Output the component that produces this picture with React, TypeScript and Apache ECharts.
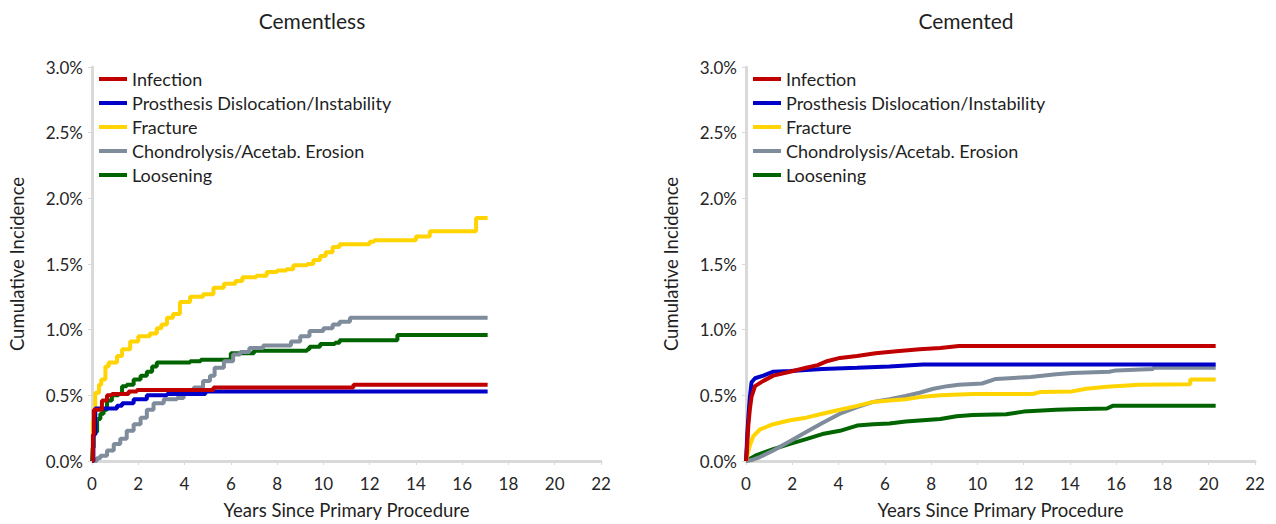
import React, { useEffect, useRef } from "react";
import * as echarts from "echarts";

const FONT = "Lato, 'Noto Sans', sans-serif";

const seriesNames = [
  "Infection",
  "Prosthesis Dislocation/Instability",
  "Fracture",
  "Chondrolysis/Acetab. Erosion",
  "Loosening",
];
const seriesColors = ["#c00000", "#0000c8", "#ffd400", "#7f8c9c", "#006400"];
const panelTitles = ["Cementless", "Cemented"];

// Cementless: [years, cumulative incidence %]
const cementlessInfection = [
  [0, 0], [0.04, 0.2], [0.08, 0.39], [0.43, 0.46], [0.65, 0.5], [0.86, 0.51],
  [1.58, 0.53], [1.94, 0.54], [5.25, 0.56], [11.3, 0.58], [17.1, 0.58],
];
const cementlessDislocation = [
  [0, 0], [0.06, 0.2], [0.14, 0.4], [1.08, 0.42], [1.3, 0.44], [1.8, 0.47],
  [2.37, 0.5], [3.24, 0.51], [4.9, 0.53], [17.1, 0.53],
];
const cementlessFracture = [
  [0, 0], [0.04, 0.3], [0.14, 0.52], [0.3, 0.58], [0.4, 0.62], [0.58, 0.72],
  [0.72, 0.75], [1.08, 0.8], [1.3, 0.85], [1.65, 0.91], [2.0, 0.95], [2.5, 0.97],
  [2.8, 1.01], [3.0, 1.04], [3.24, 1.09], [3.5, 1.12], [3.8, 1.21], [4.24, 1.25],
  [4.8, 1.27], [5.25, 1.32], [5.7, 1.35], [6.2, 1.37], [6.5, 1.4], [7.1, 1.41],
  [7.55, 1.44], [8.0, 1.45], [8.4, 1.46], [8.7, 1.49], [9.3, 1.5], [9.57, 1.53],
  [9.86, 1.56], [10.1, 1.59], [10.4, 1.63], [10.7, 1.65], [12.0, 1.67],
  [12.2, 1.68], [14.0, 1.71], [14.6, 1.75], [16.6, 1.85], [17.1, 1.85],
];
const cementlessChondrolysis = [
  [0, 0], [0.2, 0.02], [0.36, 0.04], [0.65, 0.08], [0.94, 0.13], [1.22, 0.17],
  [1.5, 0.23], [1.8, 0.28], [2.1, 0.33], [2.37, 0.39], [2.66, 0.44], [3.1, 0.47],
  [3.67, 0.48], [3.96, 0.51], [4.4, 0.56], [4.8, 0.61], [5.1, 0.65], [5.3, 0.71],
  [5.7, 0.76], [6.1, 0.81], [6.4, 0.83], [6.8, 0.86], [7.4, 0.88], [8.6, 0.91],
  [9.0, 0.95], [9.4, 0.99], [10.0, 1.01], [10.4, 1.04], [10.7, 1.06],
  [11.15, 1.09], [17.1, 1.09],
];
const cementlessLoosening = [
  [0, 0], [0.03, 0.1], [0.07, 0.22], [0.22, 0.32], [0.36, 0.36], [0.5, 0.39],
  [0.65, 0.46], [0.86, 0.5], [1.15, 0.51], [1.3, 0.57], [1.5, 0.58], [1.8, 0.62],
  [2.1, 0.65], [2.37, 0.68], [2.6, 0.72], [2.8, 0.75], [4.24, 0.76], [4.7, 0.77],
  [6.0, 0.82], [7.0, 0.84], [9.3, 0.85], [9.4, 0.87], [9.86, 0.89], [10.5, 0.9],
  [10.7, 0.92], [13.2, 0.96], [17.1, 0.96],
];

// Cemented: [years, cumulative incidence %]
const cementedInfection = [
  [0, 0], [0.05, 0.12], [0.1, 0.27], [0.17, 0.4], [0.24, 0.49], [0.39, 0.57],
  [0.75, 0.61], [1.18, 0.65], [1.9, 0.68], [2.6, 0.71], [3.1, 0.73], [3.5, 0.76],
  [4.06, 0.785], [4.8, 0.8], [5.6, 0.82], [6.5, 0.835], [7.5, 0.85], [8.4, 0.86],
  [9.2, 0.875], [20.3, 0.875],
];
const cementedDislocation = [
  [0, 0], [0.03, 0.1], [0.06, 0.22], [0.12, 0.38], [0.17, 0.49], [0.24, 0.6],
  [0.39, 0.63], [0.75, 0.65], [1.18, 0.68], [1.9, 0.685], [3.3, 0.7], [4.8, 0.71],
  [6.2, 0.72], [7.65, 0.735], [20.3, 0.735],
];
const cementedFracture = [
  [0, 0], [0.08, 0.06], [0.17, 0.12], [0.32, 0.19], [0.6, 0.24], [1.18, 0.28],
  [1.9, 0.31], [2.6, 0.33], [3.3, 0.36], [4.06, 0.39], [4.8, 0.42], [5.5, 0.45],
  [6.2, 0.46], [6.9, 0.47], [7.65, 0.49], [8.4, 0.5], [9.8, 0.51], [12.4, 0.51],
  [12.7, 0.525], [14.1, 0.53], [14.7, 0.55], [15.6, 0.565], [17.0, 0.58],
  [19.2, 0.585], [19.2, 0.62], [20.3, 0.62],
];
const cementedChondrolysis = [
  [0, 0], [0.3, 0.01], [0.6, 0.03], [1.18, 0.08], [1.9, 0.15], [2.6, 0.22],
  [3.3, 0.29], [4.06, 0.36], [4.8, 0.41], [5.5, 0.45], [6.2, 0.47], [6.9, 0.495],
  [7.5, 0.52], [8.1, 0.55], [8.7, 0.57], [9.2, 0.58], [10.2, 0.59], [10.8, 0.625],
  [12.3, 0.64], [13.4, 0.66], [14.1, 0.67], [15.7, 0.68], [16.0, 0.69],
  [17.6, 0.7], [17.6, 0.71], [20.3, 0.71],
];
const cementedLoosening = [
  [0, 0], [0.46, 0.045], [1.18, 0.09], [1.9, 0.13], [2.6, 0.167], [3.3, 0.205],
  [4.06, 0.23], [4.8, 0.27], [5.5, 0.28], [6.2, 0.285], [6.9, 0.3], [7.65, 0.31],
  [8.4, 0.32], [9.1, 0.34], [9.8, 0.35], [11.25, 0.356], [12.0, 0.376],
  [13.4, 0.39], [14.1, 0.394], [15.6, 0.4], [15.85, 0.42], [20.3, 0.42],
];

const cementlessData = [
  cementlessInfection, cementlessDislocation, cementlessFracture,
  cementlessChondrolysis, cementlessLoosening,
];
const cementedData = [
  cementedInfection, cementedDislocation, cementedFracture,
  cementedChondrolysis, cementedLoosening,
];

const X_TITLE = "Years Since Primary Procedure";
const Y_TITLE = "Cumulative Incidence";

const AXIS_GRAY = "#d9d9d9";
const TEXT = "#1f1f1f";
const LABEL = "#262626";

function buildOption() {
  const grids = [
    { left: 92, top: 67, width: 509, height: 395 },
    { left: 746, top: 67, width: 509, height: 395 },
  ];

  const xAxes = grids.map((_, i) => ({
    type: "value",
    gridIndex: i,
    min: 0,
    max: 22,
    interval: 2,
    name: X_TITLE,
    nameLocation: "middle",
    nameGap: 39,
    nameTextStyle: { fontSize: 18.5, color: TEXT, fontFamily: FONT },
    axisLine: { show: true, onZero: false, lineStyle: { color: AXIS_GRAY, width: 3 } },
    axisTick: { show: true, length: 4, lineStyle: { color: AXIS_GRAY, width: 1 } },
    splitLine: { show: false },
    axisLabel: { fontSize: 17, color: LABEL, margin: 14, fontFamily: FONT },
  }));

  const yAxes = grids.map((_, i) => ({
    type: "value",
    gridIndex: i,
    min: 0,
    max: 3,
    interval: 0.5,
    name: Y_TITLE,
    nameLocation: "middle",
    nameGap: 66,
    nameTextStyle: { fontSize: 18.5, color: TEXT, fontFamily: FONT },
    axisLine: { show: true, onZero: false, lineStyle: { color: AXIS_GRAY, width: 3 } },
    axisTick: { show: true, length: 4, lineStyle: { color: AXIS_GRAY, width: 1 } },
    splitLine: { show: false },
    axisLabel: {
      fontSize: 17,
      color: LABEL,
      margin: 9,
      fontFamily: FONT,
      formatter: (v: number) => v.toFixed(1) + "%",
    },
  }));

  const series: any[] = [];
  [cementlessData, cementedData].forEach((set, gi) => {
    set.forEach((data, si) => {
      series.push({
        type: "line",
        name: seriesNames[si],
        xAxisIndex: gi,
        yAxisIndex: gi,
        data,
        step: gi === 0 ? "end" : false,
        showSymbol: false,
        symbol: "none",
        lineStyle: { color: seriesColors[si], width: 4 },
        itemStyle: { color: seriesColors[si] },
        z: 2 + (4 - si),
      });
    });
  });

  const legendBase = {
    orient: "vertical",
    top: 70,
    padding: 0,
    icon: "rect",
    itemWidth: 28,
    itemHeight: 4,
    itemGap: 6,
    selectedMode: false,
    textStyle: { fontSize: 18, color: TEXT, lineHeight: 18, fontFamily: FONT },
    data: seriesNames,
  };

  return {
    animation: false,
    backgroundColor: "#ffffff",
    textStyle: { fontFamily: FONT },
    grid: grids,
    xAxis: xAxes,
    yAxis: yAxes,
    legend: [
      { ...legendBase, left: 99 },
      { ...legendBase, left: 753 },
    ],
    graphic: panelTitles.map((t, i) => ({
      type: "text",
      x: i === 0 ? 312 : 966,
      y: 20,
      style: {
        text: t,
        fontSize: 21,
        fill: TEXT,
        fontFamily: FONT,
        align: "center",
        verticalAlign: "middle",
      },
    })),
    series,
  };
}

export default function App() {
  const ref = useRef<HTMLDivElement>(null);

  useEffect(() => {
    if (!ref.current) return;
    const chart = echarts.init(ref.current, null, { renderer: "svg" });
    chart.setOption(buildOption() as any);
    return () => chart.dispose();
  }, []);

  return (
    <div
      ref={ref}
      style={{ position: "fixed", left: 0, top: 0, width: 1276, height: 524, background: "#fff" }}
    />
  );
}
